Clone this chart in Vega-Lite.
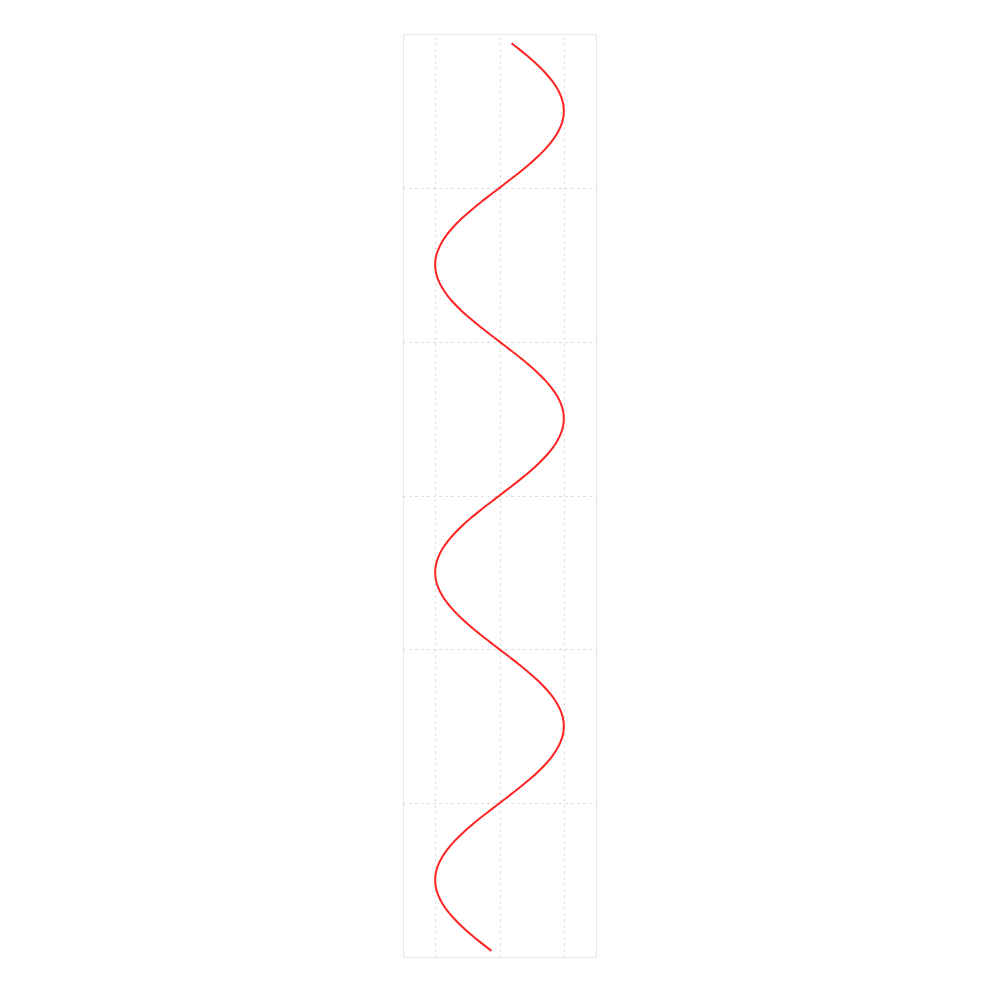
{
  "$schema": "https://vega.github.io/schema/vega-lite/v6.json",
  "width": 193,
  "height": 923,
  "autosize": "none",
  "padding": {"left": 403, "top": 34, "right": 5, "bottom": 5},
  "background": "white",
  "config": {"view": {"stroke": "#e8e8e8", "strokeWidth": 1}},
  "data": {"values": [
    {"v":0.06,"x":0.187},{"v":0.10,"x":0.309},{"v":0.15,"x":0.454},{"v":0.20,"x":0.588},{"v":0.25,"x":0.707},{"v":0.30,"x":0.809},{"v":0.35,"x":0.891},{"v":0.40,"x":0.951},{"v":0.45,"x":0.988},{"v":0.50,"x":1.0},
    {"v":0.55,"x":0.988},{"v":0.60,"x":0.951},{"v":0.65,"x":0.891},{"v":0.70,"x":0.809},{"v":0.75,"x":0.707},{"v":0.80,"x":0.588},{"v":0.85,"x":0.454},{"v":0.90,"x":0.309},{"v":0.95,"x":0.156},{"v":1.00,"x":0.0},
    {"v":1.05,"x":-0.156},{"v":1.10,"x":-0.309},{"v":1.15,"x":-0.454},{"v":1.20,"x":-0.588},{"v":1.25,"x":-0.707},{"v":1.30,"x":-0.809},{"v":1.35,"x":-0.891},{"v":1.40,"x":-0.951},{"v":1.45,"x":-0.988},{"v":1.50,"x":-1.0},
    {"v":1.55,"x":-0.988},{"v":1.60,"x":-0.951},{"v":1.65,"x":-0.891},{"v":1.70,"x":-0.809},{"v":1.75,"x":-0.707},{"v":1.80,"x":-0.588},{"v":1.85,"x":-0.454},{"v":1.90,"x":-0.309},{"v":1.95,"x":-0.156},{"v":2.00,"x":0.0},
    {"v":2.05,"x":0.156},{"v":2.10,"x":0.309},{"v":2.15,"x":0.454},{"v":2.20,"x":0.588},{"v":2.25,"x":0.707},{"v":2.30,"x":0.809},{"v":2.35,"x":0.891},{"v":2.40,"x":0.951},{"v":2.45,"x":0.988},{"v":2.50,"x":1.0},
    {"v":2.55,"x":0.988},{"v":2.60,"x":0.951},{"v":2.65,"x":0.891},{"v":2.70,"x":0.809},{"v":2.75,"x":0.707},{"v":2.80,"x":0.588},{"v":2.85,"x":0.454},{"v":2.90,"x":0.309},{"v":2.95,"x":0.156},{"v":3.00,"x":0.0},
    {"v":3.05,"x":-0.156},{"v":3.10,"x":-0.309},{"v":3.15,"x":-0.454},{"v":3.20,"x":-0.588},{"v":3.25,"x":-0.707},{"v":3.30,"x":-0.809},{"v":3.35,"x":-0.891},{"v":3.40,"x":-0.951},{"v":3.45,"x":-0.988},{"v":3.50,"x":-1.0},
    {"v":3.55,"x":-0.988},{"v":3.60,"x":-0.951},{"v":3.65,"x":-0.891},{"v":3.70,"x":-0.809},{"v":3.75,"x":-0.707},{"v":3.80,"x":-0.588},{"v":3.85,"x":-0.454},{"v":3.90,"x":-0.309},{"v":3.95,"x":-0.156},{"v":4.00,"x":0.0},
    {"v":4.05,"x":0.156},{"v":4.10,"x":0.309},{"v":4.15,"x":0.454},{"v":4.20,"x":0.588},{"v":4.25,"x":0.707},{"v":4.30,"x":0.809},{"v":4.35,"x":0.891},{"v":4.40,"x":0.951},{"v":4.45,"x":0.988},{"v":4.50,"x":1.0},
    {"v":4.55,"x":0.988},{"v":4.60,"x":0.951},{"v":4.65,"x":0.891},{"v":4.70,"x":0.809},{"v":4.75,"x":0.707},{"v":4.80,"x":0.588},{"v":4.85,"x":0.454},{"v":4.90,"x":0.309},{"v":4.95,"x":0.156},{"v":5.00,"x":0.0},
    {"v":5.05,"x":-0.156},{"v":5.10,"x":-0.309},{"v":5.15,"x":-0.454},{"v":5.20,"x":-0.588},{"v":5.25,"x":-0.707},{"v":5.30,"x":-0.809},{"v":5.35,"x":-0.891},{"v":5.40,"x":-0.951},{"v":5.45,"x":-0.988},{"v":5.50,"x":-1.0},
    {"v":5.55,"x":-0.988},{"v":5.60,"x":-0.951},{"v":5.65,"x":-0.891},{"v":5.70,"x":-0.809},{"v":5.75,"x":-0.707},{"v":5.80,"x":-0.588},{"v":5.85,"x":-0.454},{"v":5.90,"x":-0.309},{"v":5.96,"x":-0.125}
  ]},
  "mark": {"type": "line", "color": "#ff2424", "strokeWidth": 2, "interpolate": "catmull-rom"},
  "encoding": {
    "x": {"field": "x", "type": "quantitative",
      "scale": {"domain": [-1.5, 1.5], "nice": false, "zero": false},
      "axis": {"values": [-1, 0, 1], "labels": false, "ticks": false, "domain": false, "title": null,
        "grid": true, "gridColor": "#d0d0d0", "gridDash": [2, 4], "gridWidth": 1}},
    "y": {"field": "v", "type": "quantitative",
      "scale": {"domain": [0, 6], "nice": false, "zero": false, "reverse": true},
      "axis": {"values": [1, 2, 3, 4, 5], "labels": false, "ticks": false, "domain": false, "title": null,
        "grid": true, "gridColor": "#d0d0d0", "gridDash": [2, 4], "gridWidth": 1}},
    "order": {"field": "v", "type": "quantitative"}
  }
}
